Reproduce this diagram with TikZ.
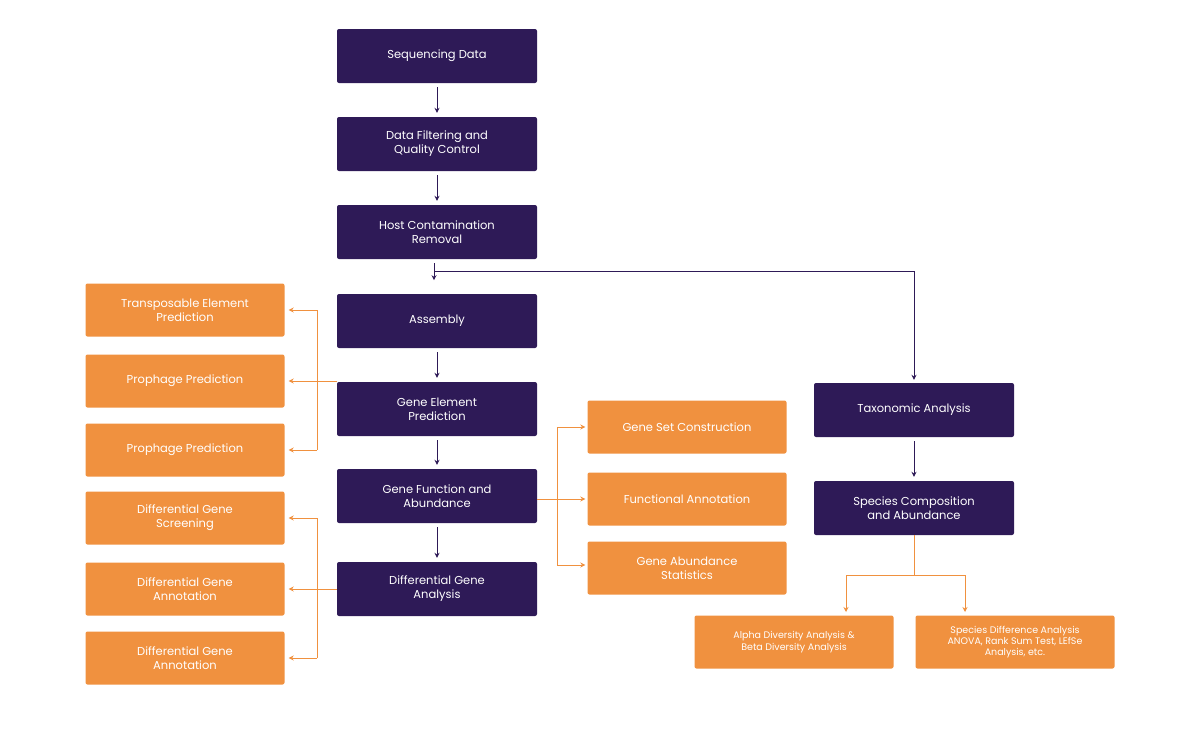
\documentclass[tikz,border=0pt]{standalone}
\usepackage{fontspec}
\setmainfont{Poppins}
\usetikzlibrary{arrows.meta}
\definecolor{pur}{HTML}{2E1A57}
\definecolor{org}{HTML}{F0913F}
\begin{document}
\begin{tikzpicture}[x=1pt,y=-1pt,
 pb/.style={fill=pur,rounded corners=2pt,minimum width=200pt,minimum height=54pt,text=white,align=center,font=\fontsize{11.5}{14}\selectfont},
 ob/.style={fill=org,rounded corners=2pt,minimum width=199pt,minimum height=53pt,text=white,align=center,font=\fontsize{11.5}{14}\selectfont},
 sb/.style={ob,font=\fontsize{9.5}{12}\selectfont},
 pa/.style={draw=pur,line width=1pt,-{Stealth[length=5pt,width=5pt]}},
 oa/.style={draw=org,line width=1pt,-{Stealth[length=5pt,width=5pt]}},
 ol/.style={draw=org,line width=1pt}]
\useasboundingbox (0,0) rectangle (1200,732);
\node[pb] (a) at (437,56) {Sequencing Data};
\node[pb] (b) at (437,144) {Data Filtering and\\Quality Control};
\node[pb] (c) at (437,232) {Host Contamination\\Removal};
\node[pb] (d) at (437,321) {Assembly};
\node[pb] (e) at (437,409) {Gene Element\\Prediction};
\node[pb] (f) at (437,496) {Gene Function and\\Abundance};
\node[pb] (g) at (437,589) {Differential Gene\\Analysis};
\node[pb] (t) at (914,410) {Taxonomic Analysis};
\node[pb] (s) at (914,508) {Species Composition\\and Abundance};
\node[ob] (l1) at (185,310) {Transposable Element\\Prediction};
\node[ob] (l2) at (185,381) {Prophage Prediction};
\node[ob] (l3) at (185,450) {Prophage Prediction};
\node[ob] (l4) at (185,518) {Differential Gene\\Screening};
\node[ob] (l5) at (185,589) {Differential Gene\\Annotation};
\node[ob] (l6) at (185,658) {Differential Gene\\Annotation};
\node[ob] (m1) at (687,427) {Gene Set Construction};
\node[ob] (m2) at (687,499) {Functional Annotation};
\node[ob] (m3) at (687,568) {Gene Abundance\\Statistics};
\node[sb] (r1) at (794,642) {Alpha Diversity Analysis \&\\Beta Diversity Analysis};
\node[sb,font=\fontsize{9.5}{11}\selectfont] (r2) at (1015,642) {Species Difference Analysis\\ANOVA, Rank Sum Test, LEfSe\\Analysis, etc.};
\foreach \u/\v in {a/b,b/c,d/e,e/f,f/g,t/s}
  \draw[pa] ([yshift=-4pt]\u.south) -- ([yshift=4pt]\v.north);
\coordinate (h) at (434,271);
\draw[pa] ([xshift=-3pt,yshift=-4pt]c.south) -- ([xshift=-3pt,yshift=-21pt]c.south);
\draw[pa] (h) -| ([yshift=3pt]t.north);
% left connectors
\draw[ol] (e.west|-l2) -- (317,381);
\draw[oa] (317,381) -- ([xshift=4pt]l2.east);
\draw[oa] (317,310) -- ([xshift=4pt]l1.east);
\draw[oa] (317,450) -- ([xshift=4pt]l3.east);
\draw[ol] (317,310) -- (317,450);
\draw[ol] (g.west) -- (317,589);
\draw[oa] (317,589) -- ([xshift=4pt]l5.east);
\draw[oa] (317,518) -- ([xshift=4pt]l4.east);
\draw[oa] (317,658) -- ([xshift=4pt]l6.east);
\draw[ol] (317,518) -- (317,658);
% middle
\draw[ol] (f.east|-m2) -- (557,499);
\draw[oa] (557,499) -- ([xshift=-2pt]m2.west);
\draw[oa] (557,427) -- ([xshift=-2pt]m1.west);
\draw[oa] (557,565) -- ([xshift=-2pt]m3.west|-557,565);
\draw[ol] (557,427) -- (557,565);
% bottom
\draw[ol] (s.south) -- (914,575);
\draw[ol] (846,575) -- (965,575);
\draw[oa] (846,575) -- (846,612);
\draw[oa] (965,575) -- (965,612);
\end{tikzpicture}
\end{document}
